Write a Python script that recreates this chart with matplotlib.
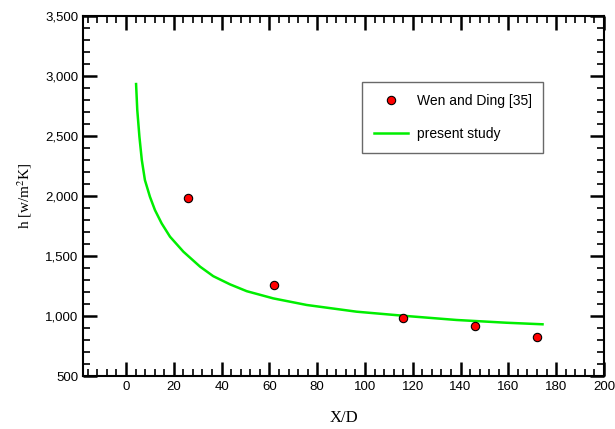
import numpy as np
import matplotlib.pyplot as plt
from matplotlib.ticker import MultipleLocator, StrMethodFormatter

# experimental data (Wen and Ding [35])
exp_x = [26, 62, 116, 146, 172]
exp_h = [1980, 1258, 986, 919, 827]

# present study curve
sim_x = [4.2, 4.7, 5.6, 6.6, 7.9, 10.0, 12.1, 14.9, 18.4, 24.0, 31.0, 36.5,
         43.5, 50.5, 61.6, 75.6, 96.5, 117.4, 138.3, 159.2, 174.3]
sim_h = [2933, 2717, 2494, 2300, 2133, 1994, 1883, 1772, 1661, 1536, 1411,
         1332, 1264, 1207, 1147, 1092, 1036, 1000, 967, 944, 931]

plt.rcParams['font.family'] = ['Liberation Sans', 'DejaVu Sans']
plt.rcParams['mathtext.fontset'] = 'stix'

fig = plt.figure(figsize=(6.15, 4.29), dpi=100)
ax = fig.add_axes([0.135, 0.1235, 0.847, 0.8392])

ax.plot(exp_x, exp_h, 'o', color='red', markeredgecolor='black',
        markeredgewidth=0.8, markersize=6, label='Wen and Ding [35]', zorder=3)
ax.plot(sim_x, sim_h, color='#00ee00', lw=1.8, label='present study')

ax.set_xlim(-18, 200)
ax.set_ylim(500, 3500)
ax.xaxis.set_major_locator(MultipleLocator(20))
ax.xaxis.set_minor_locator(MultipleLocator(4))
ax.yaxis.set_major_locator(MultipleLocator(500))
ax.yaxis.set_minor_locator(MultipleLocator(100))
ax.yaxis.set_major_formatter(StrMethodFormatter('{x:,.0f}'))

ax.tick_params(which='both', direction='in', top=True, right=True,
               labelsize=9.5, width=1.2)
ax.tick_params(which='major', length=10, width=1.8)
ax.tick_params(which='minor', length=5)
for s in ax.spines.values():
    s.set_linewidth(1.5)

ax.set_xlabel('X/D', family='Liberation Serif', fontsize=12, labelpad=12)
ax.set_ylabel(r'h [w/m$^2$K]', family='Liberation Serif', fontsize=11,
              labelpad=8)

leg = ax.legend(loc='upper left', bbox_to_anchor=(0.535, 0.817), fontsize=10,
                fancybox=False, edgecolor='#444444', handlelength=2.5,
                borderpad=0.85, labelspacing=1.4, borderaxespad=0,
                handletextpad=0.6)
leg.get_frame().set_linewidth(1.0)

plt.savefig('out.png', dpi=100)
